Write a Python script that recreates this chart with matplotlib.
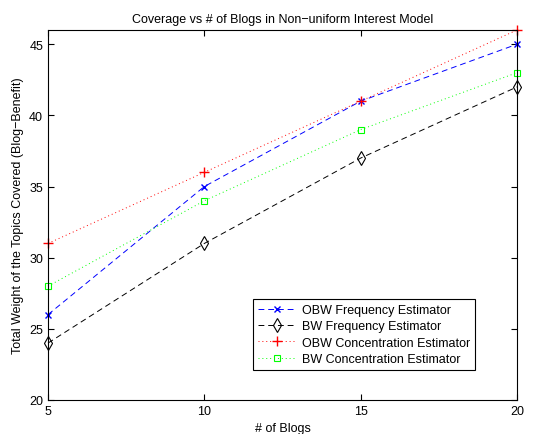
import matplotlib
matplotlib.use("Agg")
import matplotlib.pyplot as plt

plt.rcParams['font.family'] = ['Liberation Sans', 'DejaVu Sans']

blogs = [5, 10, 15, 20]
obw_freq = [26, 35, 41, 45]
bw_freq = [24, 31, 37, 42]
obw_conc = [31, 36, 41, 46]
bw_conc = [28, 34, 39, 43]
labels = ["OBW Frequency Estimator", "BW Frequency Estimator",
          "OBW Concentration Estimator", "BW Concentration Estimator"]
xticks = [5, 10, 15, 20]
yticks = [20, 25, 30, 35, 40, 45]

fig = plt.figure(figsize=(5.34, 4.35), dpi=100)
ax = fig.add_axes([48/534, 34/435, (517-48)/534, (401-31)/435])

lw = 0.7
ax.plot(blogs, obw_freq, color=(0, 0, 1), linestyle=(0, (6, 4)), marker='x',
        markersize=5, linewidth=lw, label=labels[0], clip_on=False)
ax.plot(blogs, bw_freq, color='black', linestyle=(0, (6, 4)), marker='d',
        markersize=7, markerfacecolor='none', markeredgewidth=0.8,
        linewidth=lw, label=labels[1], clip_on=False)
ax.plot(blogs, obw_conc, color=(1, 0, 0), linestyle=(0, (1, 3)), marker='+',
        markersize=7, linewidth=lw, label=labels[2], clip_on=False)
ax.plot(blogs, bw_conc, color=(0, 1, 0), linestyle=(0, (1, 3)), marker='s',
        markersize=5, markerfacecolor='none', markeredgewidth=0.8,
        linewidth=lw, label=labels[3], clip_on=False)

ax.set_xlim(5, 20)
ax.set_ylim(20, 46)
ax.set_xticks(xticks)
ax.set_yticks(yticks)
ax.tick_params(direction='in', top=True, right=True, labelsize=9, length=4)
for s in ax.spines.values():
    s.set_linewidth(0.8)

ax.set_title("Coverage vs # of Blogs in Non\u2212uniform Interest Model", fontsize=9)
ax.set_xlabel("# of Blogs", fontsize=9)
ax.set_ylabel("Total Weight of the Topics Covered (Blog\u2212Benefit)", fontsize=9)

leg = ax.legend(loc='lower left', bbox_to_anchor=(253/534, 64/435),
                bbox_transform=fig.transFigure, fontsize=9, fancybox=False,
                edgecolor='black', framealpha=1, borderaxespad=0,
                handlelength=3, labelspacing=0.35, borderpad=0.4,
                handletextpad=0.5)
leg.get_frame().set_linewidth(0.8)

fig.savefig("out.png", dpi=100)
